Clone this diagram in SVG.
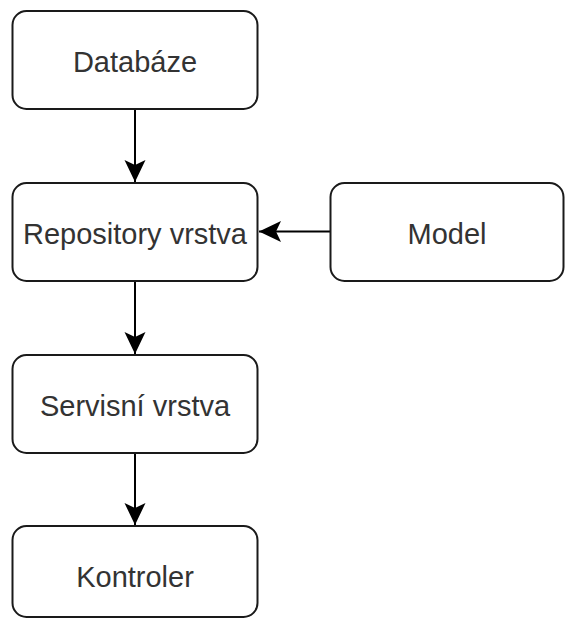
<svg xmlns="http://www.w3.org/2000/svg" width="566" height="619" viewBox="0 0 566 619">
  <style>
    .box { fill: #ffffff; stroke: #1a1a1a; stroke-width: 2; }
    .lbl { font-family: "Liberation Sans", Arial, sans-serif; font-size: 29px; fill: #333333; text-anchor: middle; }
    .edge { stroke: #000000; stroke-width: 2; fill: none; }
  </style>
  <defs>
    <marker id="arrow" markerUnits="userSpaceOnUse" markerWidth="24" markerHeight="24" viewBox="-22 -11 24 22" refX="0" refY="0" orient="auto">
      <path d="M0,0 L-22,-10.5 L-17,0 L-22,10.5 Z" fill="#000000"/>
    </marker>
  </defs>
  <rect width="566" height="619" fill="#ffffff"/>

  <g id="connectors">
    <line class="edge" x1="135" y1="109" x2="135" y2="182" marker-end="url(#arrow)"/>
    <line class="edge" x1="330.5" y1="231.5" x2="259" y2="231.5" marker-end="url(#arrow)"/>
    <line class="edge" x1="135" y1="281" x2="135" y2="354" marker-end="url(#arrow)"/>
    <line class="edge" x1="135" y1="453" x2="135" y2="525" marker-end="url(#arrow)"/>
  </g>

  <g id="node-databaze">
    <rect class="box" x="12.5" y="11" width="245" height="98" rx="14"/>
    <text class="lbl" x="135" y="72">Databáze</text>
  </g>
  <g id="node-repository">
    <rect class="box" x="12.5" y="183" width="245" height="98" rx="14"/>
    <text class="lbl" x="135" y="244">Repository vrstva</text>
  </g>
  <g id="node-model">
    <rect class="box" x="330.5" y="183" width="233" height="98" rx="14"/>
    <text class="lbl" x="447" y="244">Model</text>
  </g>
  <g id="node-servisni">
    <rect class="box" x="12.5" y="355" width="245" height="98" rx="14"/>
    <text class="lbl" x="135" y="416">Servisní vrstva</text>
  </g>
  <g id="node-kontroler">
    <rect class="box" x="12.5" y="526" width="245" height="91" rx="14"/>
    <text class="lbl" x="135" y="587">Kontroler</text>
  </g>
</svg>
